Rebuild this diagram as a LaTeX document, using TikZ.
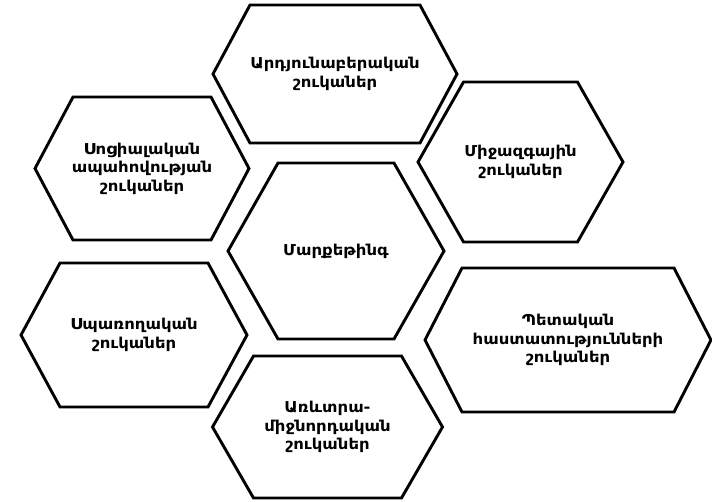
\documentclass[tikz,border=0pt]{standalone}
\usepackage{fontspec}
\newfontfamily\armfont[FakeStretch=1.1]{DejaVu Sans}
\tikzset{
  hexline/.style={draw=black, line width=2.9pt, line join=miter, fill=white},
  hextext/.style={align=center, font=\armfont\bfseries\fontsize{15}{18.5}\selectfont, inner sep=0pt}
}
% #1 name, #2 cx, #3 cy, #4 half width, #5 half top width, #6 half height, #7 text
\newcommand\hexa[7]{%
  \draw[hexline] ({#2-#4},#3) -- ({#2-#5},{#3-#6}) -- ({#2+#5},{#3-#6}) -- ({#2+#4},#3)
     -- ({#2+#5},{#3+#6}) -- ({#2-#5},{#3+#6}) -- cycle;
  \node[hextext] (#1) at (#2,#3) {#7};
}
\begin{document}
\begin{tikzpicture}[x=1pt,y=-1pt]
\useasboundingbox (0,0) rectangle (712,501);
\fill[white] (0,0) rectangle (712,501);
\hexa{top}{335}{74}{122}{85}{69}{Արդյունաբերական\\շուկաներ}
\hexa{center}{336}{251}{108}{58}{88}{Մարքեթինգ}
\hexa{lefttop}{142}{168.5}{107}{69}{71.5}{Սոցիալական\\ապահովության\\շուկաներ}
\hexa{righttop}{520.5}{162}{102.5}{57}{80}{Միջազգային\\շուկաներ}
\hexa{leftbottom}{134}{335}{113}{74}{72}{Սպառողական\\շուկաներ}
\hexa{rightbottom}{568}{340}{143}{106}{72}{Պետական\\հաստատությունների\\շուկաներ}
\hexa{bottom}{327.5}{427}{115}{74}{71}{Առևտրա-\\միջնորդական\\շուկաներ}
\end{tikzpicture}
\end{document}
